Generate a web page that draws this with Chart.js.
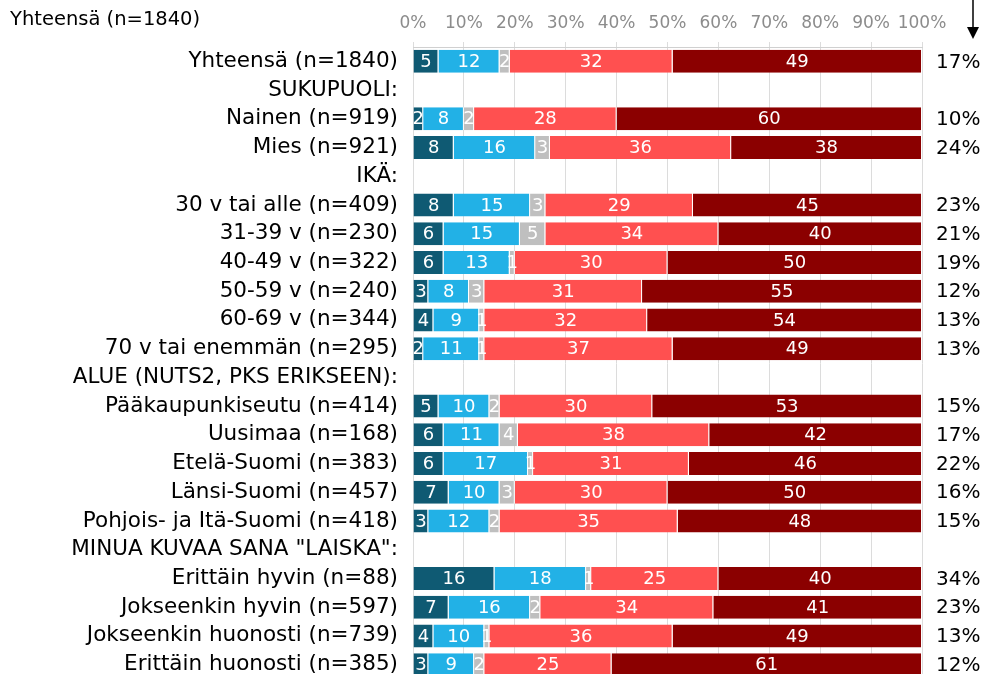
<!DOCTYPE html>
<html>
<head>
<meta charset="utf-8">
<script src="https://cdn.jsdelivr.net/npm/chart.js"></script>
<style>
  html, body { margin: 0; background: #fff; overflow: hidden; }
  #wrap { width: 985px; height: 680px; position: relative; }
</style>
</head>
<body>
<div id="wrap"><canvas id="myChart"></canvas></div>
<script>
const categories = ['Yhteensä (n=1840)', 'SUKUPUOLI:', 'Nainen (n=919)', 'Mies (n=921)', 'IKÄ:',
  '30 v tai alle (n=409)', '31-39 v (n=230)', '40-49 v (n=322)', '50-59 v (n=240)', '60-69 v (n=344)',
  '70 v tai enemmän (n=295)', 'ALUE (NUTS2, PKS ERIKSEEN):', 'Pääkaupunkiseutu (n=414)', 'Uusimaa (n=168)',
  'Etelä-Suomi (n=383)', 'Länsi-Suomi (n=457)', 'Pohjois- ja Itä-Suomi (n=418)', 'MINUA KUVAA SANA "LAISKA":',
  'Erittäin hyvin (n=88)', 'Jokseenkin hyvin (n=597)', 'Jokseenkin huonosti (n=739)', 'Erittäin huonosti (n=385)'];

const share1 = [5, null, 2, 8, null, 8, 6, 6, 3, 4, 2, null, 5, 6, 6, 7, 3, null, 16, 7, 4, 3];
const share2 = [12, null, 8, 16, null, 15, 15, 13, 8, 9, 11, null, 10, 11, 16.6, 10, 12, null, 18, 16, 10, 9];
const share3 = [2, null, 2, 2.9, null, 3, 5, 1, 3, 1, 1, null, 2, 3.6, 1, 3, 2, null, 1, 2, 1, 2];
const share4 = [32, null, 28, 35.6, null, 29, 34, 30, 31, 32, 37, null, 30, 37.6, 30.6, 30, 35, null, 25, 34, 36, 25];
const share5 = [49, null, 60, 37.5, null, 45, 40, 50, 55, 54, 49, null, 53, 41.8, 45.8, 50, 48, null, 40, 41, 49, 61];
const rightCol = ['17%', null, '10%', '24%', null, '23%', '21%', '19%', '12%', '13%', '13%', null,
  '15%', '17%', '22%', '16%', '15%', null, '34%', '23%', '13%', '12%'];

const colors = ['#0f5a73', '#22b1e6', '#bfbfbf', '#ff5050', '#8b0000'];
const FONT = '"DejaVu Sans", Verdana, sans-serif';

const extras = {
  id: 'extras',
  afterDatasetsDraw(chart) {
    const ctx = chart.ctx;
    const yScale = chart.scales.y;
    ctx.save();
    // numbers inside segments
    ctx.font = '18px ' + FONT;
    ctx.fillStyle = '#fff';
    ctx.textAlign = 'center';
    ctx.textBaseline = 'middle';
    chart.data.datasets.forEach((ds, di) => {
      chart.getDatasetMeta(di).data.forEach((bar, i) => {
        const v = ds.data[i];
        if (v == null) return;
        const x = (bar.x + bar.base) / 2;
        ctx.fillText(String(Math.round(v)), x, bar.y + 1);
      });
    });
    // right column
    ctx.fillStyle = '#000';
    ctx.font = '20px ' + FONT;
    ctx.textAlign = 'left';
    rightCol.forEach((t, i) => {
      if (t) ctx.fillText(t, 936, yScale.getPixelForValue(i) + 1);
    });
    // header
    ctx.font = '19.5px ' + FONT;
    ctx.fillText('Yhteensä (n=1840)', 10, 20);
    // arrow
    ctx.strokeStyle = '#000';
    ctx.lineWidth = 1.5;
    ctx.beginPath();
    ctx.moveTo(973, 0);
    ctx.lineTo(973, 28);
    ctx.stroke();
    ctx.beginPath();
    ctx.moveTo(967, 27);
    ctx.lineTo(979, 27);
    ctx.lineTo(973, 39);
    ctx.closePath();
    ctx.fill();
    ctx.restore();
  }
};

const datasets = [share1, share2, share3, share4, share5].map((d, k) => ({
  label: 'S' + (k + 1),
  data: d,
  backgroundColor: colors[k],
  borderColor: '#fff',
  borderWidth: {left: 0, right: 1, top: 0, bottom: 0},
  borderSkipped: false,
  barPercentage: 0.8,
  categoryPercentage: 1
}));

new Chart('myChart', {
  type: 'bar',
  data: { labels: categories, datasets: datasets },
  options: {
    indexAxis: 'y',
    responsive: true,
    maintainAspectRatio: false,
    animation: false,
    layout: { padding: { top: 0, right: 63, bottom: 1, left: 0 } },
    plugins: { legend: { display: false }, tooltip: { enabled: false } },
    scales: {
      x: {
        position: 'top',
        stacked: true,
        min: 0,
        max: 100,
        ticks: {
          stepSize: 10,
          callback: v => v + '%',
          color: '#8c8c8c',
          font: { family: FONT, size: 17 },
          padding: 8,
          maxRotation: 0,
          autoSkip: false
        },
        grid: { color: '#dcdcdc', tickLength: 5 },
        border: { color: '#d0d0d0' },
        afterFit: s => { s.height = 47; }
      },
      y: {
        stacked: true,
        grid: { display: false, drawTicks: false },
        border: { display: false },
        ticks: { color: '#000', font: { family: FONT, size: 21.5 }, padding: 15, autoSkip: false },
        afterFit: s => { s.width = 413; s.paddingTop = 0; s.paddingBottom = 0; }
      }
    }
  },
  plugins: [extras]
});
</script>
</body>
</html>
